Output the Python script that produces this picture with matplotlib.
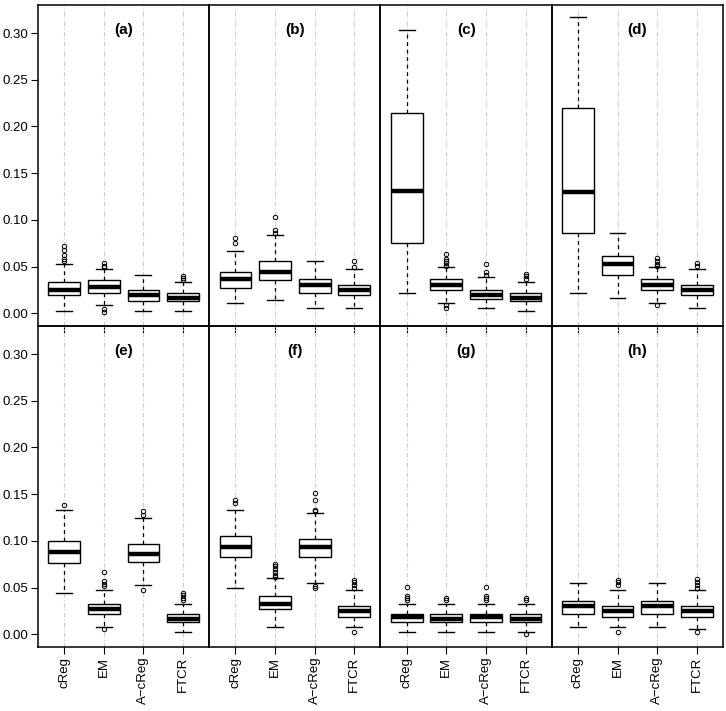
import numpy as np
import matplotlib.pyplot as plt

plt.rcParams['font.family'] = ['Liberation Sans', 'DejaVu Sans']

methods = ['cReg', 'EM', 'A\u2212cReg', 'FTCR']
panels = ['(a)', '(b)', '(c)', '(d)', '(e)', '(f)', '(g)', '(h)']

# box statistics, one row per panel, one column per method
med = [
    [0.0249, 0.0285, 0.0196, 0.0167],
    [0.0363, 0.0445, 0.0306, 0.0253],
    [0.1306, 0.0306, 0.0196, 0.0167],
    [0.1295, 0.0530, 0.0306, 0.0249],
    [0.0886, 0.0273, 0.0858, 0.0163],
    [0.0940, 0.0330, 0.0940, 0.0248],
    [0.0184, 0.0170, 0.0184, 0.0170],
    [0.0305, 0.0248, 0.0305, 0.0248],
]
q1 = [
    [0.0192, 0.0221, 0.0131, 0.0135],
    [0.0274, 0.0356, 0.0221, 0.0192],
    [0.0751, 0.0249, 0.0149, 0.0135],
    [0.0862, 0.0413, 0.0249, 0.0192],
    [0.0769, 0.0220, 0.0773, 0.0135],
    [0.0826, 0.0273, 0.0826, 0.0191],
    [0.0135, 0.0135, 0.0135, 0.0135],
    [0.0220, 0.0191, 0.0220, 0.0191],
]
q3 = [
    [0.0334, 0.0352, 0.0249, 0.0221],
    [0.0445, 0.0558, 0.0363, 0.0306],
    [0.2143, 0.0363, 0.0249, 0.0221],
    [0.2196, 0.0612, 0.0363, 0.0302],
    [0.0997, 0.0330, 0.0968, 0.0223],
    [0.1050, 0.0415, 0.1025, 0.0305],
    [0.0223, 0.0223, 0.0223, 0.0223],
    [0.0362, 0.0305, 0.0362, 0.0305],
]
whislo = [
    [0.0025, 0.0085, 0.0025, 0.0025],
    [0.0107, 0.0139, 0.0053, 0.0053],
    [0.0221, 0.0110, 0.0053, 0.0025],
    [0.0221, 0.0163, 0.0110, 0.0053],
    [0.0443, 0.0082, 0.0525, 0.0025],
    [0.0496, 0.0082, 0.0550, 0.0082],
    [0.0028, 0.0028, 0.0028, 0.0028],
    [0.0082, 0.0082, 0.0082, 0.0053],
]
whishi = [
    [0.0530, 0.0477, 0.0413, 0.0331],
    [0.0669, 0.0836, 0.0558, 0.0470],
    [0.3032, 0.0498, 0.0392, 0.0331],
    [0.3174, 0.0862, 0.0498, 0.0470],
    [0.1326, 0.0472, 0.1248, 0.0330],
    [0.1326, 0.0606, 0.1301, 0.0472],
    [0.0330, 0.0330, 0.0330, 0.0330],
    [0.0550, 0.0472, 0.0550, 0.0472],
]
outliers = [
    [[0.072, 0.0676, 0.063, 0.058, 0.056], [0.0534, 0.0512, 0.0494, 0.0046, 0.0018],
     [], [0.040, 0.0377, 0.0356]],
    [[0.0808, 0.0755], [0.1028, 0.0889, 0.0861], [], [0.0558, 0.0499]],
    [[], [0.064, 0.0584, 0.0559, 0.0534, 0.0512, 0.0085, 0.0061],
     [0.053, 0.0441, 0.0416], [0.0424, 0.0399, 0.037]],
    [[], [], [0.059, 0.0559, 0.053, 0.0505, 0.0085], [0.0534, 0.0505]],
    [[0.1383], [0.0667, 0.0567, 0.0543, 0.0518, 0.0057],
     [0.1323, 0.1277, 0.0472], [0.0443, 0.0418, 0.039, 0.0365]],
    [[0.1436, 0.1408], [0.0752, 0.0727, 0.0699, 0.067, 0.0638, 0.0617],
     [0.1518, 0.1436, 0.133, 0.1316, 0.0514, 0.0493], [0.0585, 0.056, 0.0525, 0.0493, 0.0025]],
    [[0.0503, 0.0415, 0.039, 0.0365], [0.0394, 0.0365],
     [0.0503, 0.0415, 0.039, 0.0365], [0.0394, 0.0365, 0.0]],
    [[], [0.0585, 0.056, 0.0525, 0.0025], [], [0.0592, 0.056, 0.0529, 0.05, 0.0028]],
]

positions = np.arange(1, len(methods) + 1)
yticks = [0.00, 0.05, 0.10, 0.15, 0.20, 0.25, 0.30]

fig, axes = plt.subplots(2, 4, figsize=(7.26, 7.11), dpi=100, sharey=True)
fig.subplots_adjust(left=0.0523, right=0.9959, top=0.993, bottom=0.09,
                    wspace=0, hspace=0)

for k, ax in enumerate(axes.flat):
    stats = []
    for j in range(len(methods)):
        stats.append({
            'med': med[k][j], 'q1': q1[k][j], 'q3': q3[k][j],
            'whislo': whislo[k][j], 'whishi': whishi[k][j],
            'fliers': outliers[k][j],
        })
    ax.patch.set_visible(False)
    for p in positions:
        ax.axvline(p, color='#cccccc', lw=0.8, ls=(0, (4, 2, 1, 2)), zorder=0)
    ax.bxp(stats, positions=positions, widths=0.8, capwidths=0.4,
           patch_artist=True, showfliers=True,
           boxprops=dict(facecolor='white', edgecolor='black', lw=1.0),
           medianprops=dict(color='black', lw=3.2, solid_capstyle='butt'),
           whiskerprops=dict(color='black', lw=0.9, ls=(0, (3, 3))),
           capprops=dict(color='black', lw=1.0),
           flierprops=dict(marker='o', markersize=3.2, markerfacecolor='none',
                           markeredgecolor='black', markeredgewidth=0.7),
           zorder=2)
    ax.set_xlim(0.34, 4.66)
    ax.set_ylim(-0.0135, 0.33)
    ax.set_yticks(yticks)
    ax.text(0.5, 0.922, panels[k], transform=ax.transAxes, ha='center',
            va='center', fontsize=11, fontweight='bold')
    for s in ax.spines.values():
        s.set_linewidth(1.1)
    ax.tick_params(axis='both', direction='out', length=5, width=0.8,
                   labelsize=9.5, pad=2)
    ax.set_xticks(positions)
    if k < 4:
        ax.tick_params(axis='x', labelbottom=False)
    else:
        ax.set_xticklabels(methods, rotation=90)
    if k % 4 != 0:
        ax.tick_params(axis='y', left=False, labelleft=False)
    else:
        ax.set_yticklabels([f'{v:.2f}' for v in yticks])

plt.savefig('out.png', dpi=100)
